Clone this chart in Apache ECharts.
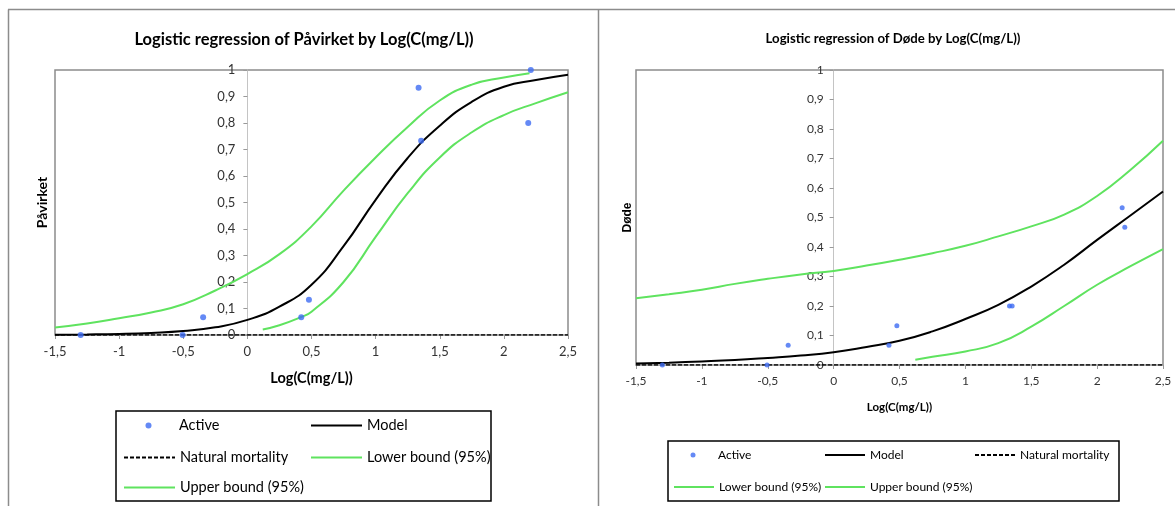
<!DOCTYPE html>
<html><head><meta charset="utf-8">
<script src="https://cdn.jsdelivr.net/npm/echarts@6/dist/echarts.min.js"></script>
<style>html,body{margin:0;padding:0;background:#fff}#c{width:1175px;height:506px}</style>
</head><body><div id="c"></div>
<script>
// ---- data ----
const activeX        = [-1.30, -0.505, -0.345, 0.42, 0.48, 1.335, 1.355, 2.19, 2.21];
const pavirketActive = [0, 0, 0.067, 0.067, 0.133, 0.933, 0.733, 0.80, 1.00];
const dodeActive     = [0, 0, 0.067, 0.067, 0.133, 0.20, 0.20, 0.533, 0.467];

const curveX = [-1.5, -1.25, -1, -0.75, -0.5, -0.25, 0, 0.25, 0.5, 0.75, 1, 1.25, 1.5, 1.75, 2, 2.25, 2.5];
const pavModel = [0.001, 0.002, 0.004, 0.008, 0.015, 0.029, 0.057, 0.107, 0.19, 0.335, 0.51, 0.668, 0.79, 0.88, 0.937, 0.962, 0.982];
const pavUpperX = [-1.5, -1.25, -1, -0.75, -0.5, -0.25, 0, 0.25, 0.5, 0.75, 1, 1.25, 1.5, 1.75, 2, 2.2];
const pavUpper  = [0.028, 0.043, 0.063, 0.085, 0.116, 0.168, 0.23, 0.305, 0.41, 0.545, 0.67, 0.785, 0.885, 0.945, 0.972, 0.988];
const pavLowerX = [0.12, 0.25, 0.42, 0.5, 0.75, 1, 1.25, 1.5, 1.75, 2, 2.25, 2.5];
const pavLower  = [0.021, 0.037, 0.068, 0.088, 0.2, 0.37, 0.535, 0.67, 0.765, 0.83, 0.875, 0.916];

const dodeModel = [0.005, 0.008, 0.012, 0.017, 0.024, 0.032, 0.043, 0.061, 0.082, 0.114, 0.156, 0.204, 0.266, 0.34, 0.424, 0.506, 0.588];
const dodeUpper = [0.226, 0.24, 0.255, 0.275, 0.292, 0.307, 0.319, 0.337, 0.357, 0.379, 0.404, 0.436, 0.47, 0.51, 0.573, 0.66, 0.76];
const dodeLowerX = [0.62, 0.75, 1, 1.25, 1.5, 1.75, 2, 2.25, 2.5];
const dodeLower  = [0.018, 0.028, 0.046, 0.074, 0.13, 0.2, 0.272, 0.334, 0.393];

const naturalX = [-1.5, 2.5];
const naturalY = [0, 0];

const titles = ['Logistic regression of Påvirket by Log(C(mg/L))', 'Logistic regression of Døde by Log(C(mg/L))'];
const yNames = ['Påvirket', 'Døde'];
const xName = 'Log(C(mg/L))';

// ---- helpers ----
const zip = (xs, ys) => xs.map((x, i) => [x, ys[i]]);
const comma = v => String(Number(v.toFixed(2))).replace('.', ',');
const GREEN = '#5fe35f', BLUE = '#3d6cf2', FONT = 'Lato';
const X_MIN = -1.5, X_MAX = 2.5;

function xAxis(gi, fs, nfs) {
  return {
    type: 'value', gridIndex: gi, min: X_MIN, max: X_MAX, interval: 0.5,
    axisLine: { show: false, onZero: false },
    axisTick: { show: true, length: 4, lineStyle: { color: '#999' } },
    splitLine: { show: false },
    axisLabel: { formatter: comma, fontSize: fs, color: '#333', fontFamily: FONT, margin: 10 },
    name: xName, nameLocation: 'middle', nameGap: 36, nameMoveOverlap: false,
    nameTextStyle: { fontSize: nfs, fontWeight: 'bold', color: '#000', fontFamily: FONT }
  };
}
// y axis drawn at x = 0 of the x scale: shift it inward by the grid-relative position of 0
function yAxis(gi, gridWidth, fs, name, nameFont, nfs, nameEdge, margin) {
  const inward = gridWidth * (0 - X_MIN) / (X_MAX - X_MIN);
  return {
    type: 'value', gridIndex: gi, min: 0, max: 1, interval: 0.1, position: 'left', offset: -inward,
    axisLine: { show: true, onZero: false, lineStyle: { color: '#c4c4c4', width: 1 } },
    axisTick: { show: true, length: 4, lineStyle: { color: '#999' } },
    splitLine: { show: false },
    axisLabel: { formatter: comma, fontSize: fs, color: '#333', fontFamily: FONT, margin: margin },
    name: name, nameLocation: 'middle', nameGap: inward + nameEdge, nameMoveOverlap: false,
    nameTextStyle: { fontSize: nfs, fontWeight: 'bold', color: '#000', fontFamily: nameFont }
  };
}
function seriesFor(gi, act, model, lowX, low, upX, up, sym) {
  const base = { xAxisIndex: gi, yAxisIndex: gi };
  return [
    Object.assign({ type: 'line', name: 'Natural mortality', data: zip(naturalX, naturalY), symbol: 'none',
      lineStyle: { color: '#000', width: 1.5, type: [4, 2] }, itemStyle: { color: '#000' }, z: 3 }, base),
    Object.assign({ type: 'line', name: 'Lower bound (95%)', data: zip(lowX, low), symbol: 'none', smooth: true,
      lineStyle: { color: GREEN, width: 2 }, itemStyle: { color: GREEN }, z: 3 }, base),
    Object.assign({ type: 'line', name: 'Upper bound (95%)', data: zip(upX, up), symbol: 'none', smooth: true,
      lineStyle: { color: GREEN, width: 2 }, itemStyle: { color: GREEN }, z: 3 }, base),
    Object.assign({ type: 'line', name: 'Model', data: zip(curveX, model), symbol: 'none', smooth: true,
      lineStyle: { color: '#000', width: 2 }, itemStyle: { color: '#000' }, z: 4 }, base),
    Object.assign({ type: 'scatter', name: 'Active', data: zip(activeX, act), symbol: 'circle', symbolSize: sym,
      itemStyle: { color: BLUE }, z: 5 }, base)
  ];
}
function legLine(name, left, cy, w, fs) {
  return { data: [name], left: left, top: cy - 7, orient: 'horizontal', padding: 0,
    itemWidth: w, itemHeight: 14, itemGap: 0, selectedMode: false,
    itemStyle: { opacity: 0, borderWidth: 0 },
    textStyle: { fontSize: fs, color: '#000', fontFamily: FONT } };
}
function legDot(name, cx, cy, d, textLeft, fs) {
  const left = cx - d / 2;
  return { data: [{ name: name, icon: 'circle' }], left: left, top: cy - 7, orient: 'horizontal', padding: 0,
    itemWidth: d, itemHeight: d, itemGap: 0, selectedMode: false,
    textStyle: { fontSize: fs, color: '#000', fontFamily: FONT, padding: [0, 0, 0, textLeft - (left + d + 5)] } };
}

const option = {
  backgroundColor: '#fff',
  animation: false,
  title: [
    { text: titles[0], left: 299, top: 26, textAlign: 'center',
      textStyle: { fontSize: 16.5, fontWeight: 'bold', color: '#000', fontFamily: FONT } },
    { text: titles[1], left: 888, top: 27, textAlign: 'center',
      textStyle: { fontSize: 13.2, fontWeight: 'bold', color: '#000', fontFamily: FONT } }
  ],
  grid: [
    { left: 55, top: 70, width: 513, height: 265, show: true, borderColor: '#8c8c8c', borderWidth: 1.5, outerBoundsMode: 'none', containLabel: false },
    { left: 636, top: 70, width: 527, height: 295, show: true, borderColor: '#8c8c8c', borderWidth: 1.5, outerBoundsMode: 'none', containLabel: false }
  ],
  xAxis: [xAxis(0, 13, 14.5), xAxis(1, 12, 11.5)],
  yAxis: [yAxis(0, 513, 13, yNames[0], FONT, 14, 5.5, 12), yAxis(1, 527, 12, yNames[1], 'Liberation Sans', 12, 2.5, 10)],
  legend: [
    legDot('Active', 148.5, 425, 6, 179, 14.5),
    legLine('Model', 310, 425, 51, 14.5),
    legLine('Natural mortality', 123, 457, 51, 14.5),
    legLine('Lower bound (95%)', 310, 457, 51, 14.5),
    legLine('Upper bound (95%)', 123, 487, 51, 14.5),
    legDot('Active', 693, 456, 5, 718, 12),
    legLine('Model', 824, 456, 40, 12),
    legLine('Natural mortality', 974, 456, 40, 12),
    legLine('Lower bound (95%)', 673, 488, 40, 12),
    legLine('Upper bound (95%)', 824, 488, 40, 12)
  ],
  graphic: [
    { type: 'line', shape: { x1: 8, y1: 9.5, x2: 1175, y2: 9.5 }, style: { stroke: '#8c8c8c', lineWidth: 1.5 } },
    { type: 'line', shape: { x1: 8.5, y1: 9.5, x2: 8.5, y2: 506 }, style: { stroke: '#8c8c8c', lineWidth: 1.5 } },
    { type: 'line', shape: { x1: 598.5, y1: 9.5, x2: 598.5, y2: 506 }, style: { stroke: '#8c8c8c', lineWidth: 1.5 } },
    { type: 'rect', shape: { x: 116, y: 411, width: 375, height: 90 }, style: { fill: 'none', stroke: '#000', lineWidth: 1.5 } },
    { type: 'rect', shape: { x: 668, y: 441, width: 451, height: 60 }, style: { fill: 'none', stroke: '#000', lineWidth: 1.5 } }
  ],
  series: [].concat(
    seriesFor(0, pavirketActive, pavModel, pavLowerX, pavLower, pavUpperX, pavUpper, 6),
    seriesFor(1, dodeActive, dodeModel, dodeLowerX, dodeLower, curveX, dodeUpper, 5)
  )
};
const chart = echarts.init(document.getElementById('c'), null, { renderer: 'canvas' });
chart.setOption(option);
</script>
</body></html>
